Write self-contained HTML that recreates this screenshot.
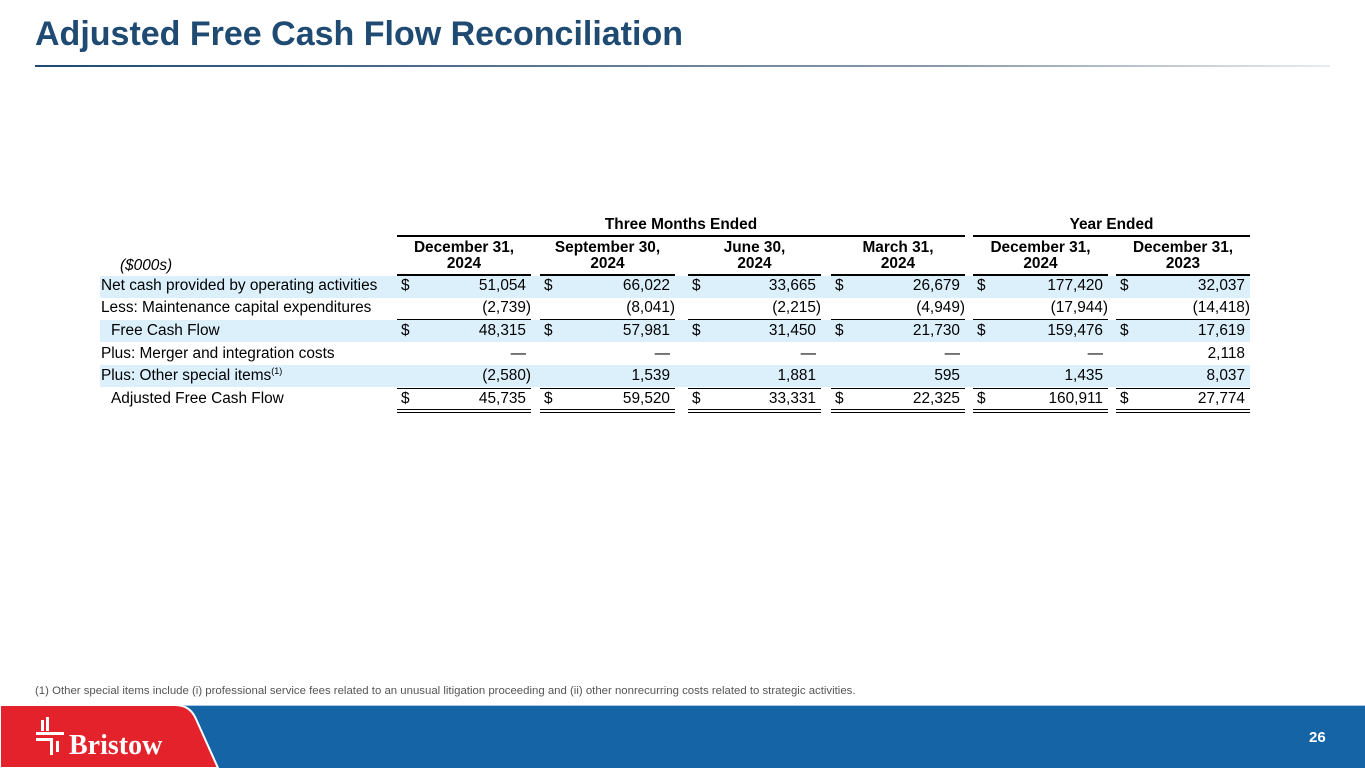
<!DOCTYPE html>
<html><head><meta charset="utf-8"><style>
*{margin:0;padding:0;box-sizing:border-box}
body{width:1365px;height:768px;position:relative;overflow:hidden;background:#fff;font-family:"Liberation Sans",Arial,sans-serif;color:#000}
.a{position:absolute;white-space:nowrap}
.t{font-size:15.4px;line-height:18px}
.b{font-weight:bold}
.band{position:absolute;left:100px;width:1150px;height:22px;background:#dcf0fc}
.ln{position:absolute;height:1px;background:#000}
.r{text-align:right}
.c{text-align:center}
</style></head><body>
<div class="a b" style="left:35px;top:13px;font-size:34px;color:#1f4a72;line-height:42px">Adjusted Free Cash Flow Reconciliation</div>
<div class="a" style="left:35px;top:65px;width:1295px;height:2px;background:linear-gradient(90deg,#1f4a72,#8a9aaa 70%,#e8ecef)"></div>

<div class="band" style="top:276px"></div>
<div class="band" style="top:320px"></div>
<div class="band" style="top:365px"></div>

<div class="a t b c" style="left:397px;width:568px;top:216px">Three Months Ended</div>
<div class="a t b c" style="left:973px;width:277px;top:216px">Year Ended</div>
<div class="ln" style="left:397px;width:568px;top:235px;height:2px"></div>
<div class="ln" style="left:973px;width:277px;top:235px;height:2px"></div>

<div class="a t" style="left:120px;top:257px;font-style:italic">($000s)</div>

<div id="cols"></div>

<div class="a t" style="left:101px;top:277px">Net cash provided by operating activities</div>
<div class="a t" style="left:101px;top:299px">Less: Maintenance capital expenditures</div>
<div class="a t" style="left:111px;top:322px">Free Cash Flow</div>
<div class="a t" style="left:101px;top:345px">Plus: Merger and integration costs</div>
<div class="a t" style="left:101px;top:367px">Plus: Other special items<sup style="font-size:9px;vertical-align:6px;line-height:0">(1)</sup></div>
<div class="a t" style="left:111px;top:390px">Adjusted Free Cash Flow</div>

<script>
var cols=[[397,531,"December 31,","2024",["51,054","(2,739)","48,315","—","(2,580)","45,735"]],
[540,675,"September 30,","2024",["66,022","(8,041)","57,981","—","1,539","59,520"]],
[688,821,"June 30,","2024",["33,665","(2,215)","31,450","—","1,881","33,331"]],
[831,965,"March 31,","2024",["26,679","(4,949)","21,730","—","595","22,325"]],
[973,1108,"December 31,","2024",["177,420","(17,944)","159,476","—","1,435","160,911"]],
[1116,1250,"December 31,","2023",["32,037","(14,418)","17,619","2,118","8,037","27,774"]]];
var tops=[277,299,322,345,367,390],h="";
cols.forEach(function(c){
 var L=c[0],R=c[1],W=R-L;
 h+='<div class="a t b c" style="left:'+L+'px;width:'+W+'px;top:239px">'+c[2]+'</div>';
 h+='<div class="a t b c" style="left:'+L+'px;width:'+W+'px;top:255px">'+c[3]+'</div>';
 h+='<div class="ln" style="left:'+L+'px;width:'+W+'px;top:274px;height:2px"></div>';
 h+='<div class="ln" style="left:'+L+'px;width:'+W+'px;top:319px"></div>';
 h+='<div class="ln" style="left:'+L+'px;width:'+W+'px;top:388px"></div>';
 h+='<div class="ln" style="left:'+L+'px;width:'+W+'px;top:409px"></div>';
 h+='<div class="ln" style="left:'+L+'px;width:'+W+'px;top:412px"></div>';
 c[4].forEach(function(v,i){
  if(i==0||i==2||i==5) h+='<div class="a t" style="left:'+(L+4)+'px;top:'+tops[i]+'px">$</div>';
  var p=v.charAt(0)=="(";
  h+='<div class="a t r" style="right:'+(1365-R+(p?0:5))+'px;top:'+tops[i]+'px">'+v+'</div>';
 });
});
document.getElementById('cols').outerHTML=h;
</script>

<div class="a" style="left:35px;top:685px;font-size:11.4px;color:#555">(1) Other special items include (i) professional service fees related to an unusual litigation proceeding and (ii) other nonrecurring costs related to strategic activities.</div>

<div class="a" style="left:0;top:706px;width:1365px;height:62px;background:#1464a6"></div>
<div class="a" style="left:0;top:705px;width:1365px;height:1px;background:#a9c9e4"></div>
<svg class="a" style="left:0;top:705px" width="230" height="63">
<path d="M0,0 H175 Q190,0 196,14 L218,63 H0 Z" fill="#e4222c" stroke="#fff" stroke-width="2"/>
<g fill="#fff"><rect x="41" y="15" width="3" height="11"/><rect x="46" y="12" width="3" height="14"/><rect x="36" y="27" width="28" height="3"/><rect x="36" y="33" width="17" height="3"/><rect x="50" y="36" width="3" height="14"/><rect x="56" y="36" width="3" height="11"/></g>
<text x="69" y="49" fill="#fff" font-family="Liberation Serif,serif" font-weight="bold" font-size="28">Bristow</text>
</svg>
<div class="a b" style="left:1309px;top:729px;color:#fff;font-size:15px">26</div>
</body></html>
